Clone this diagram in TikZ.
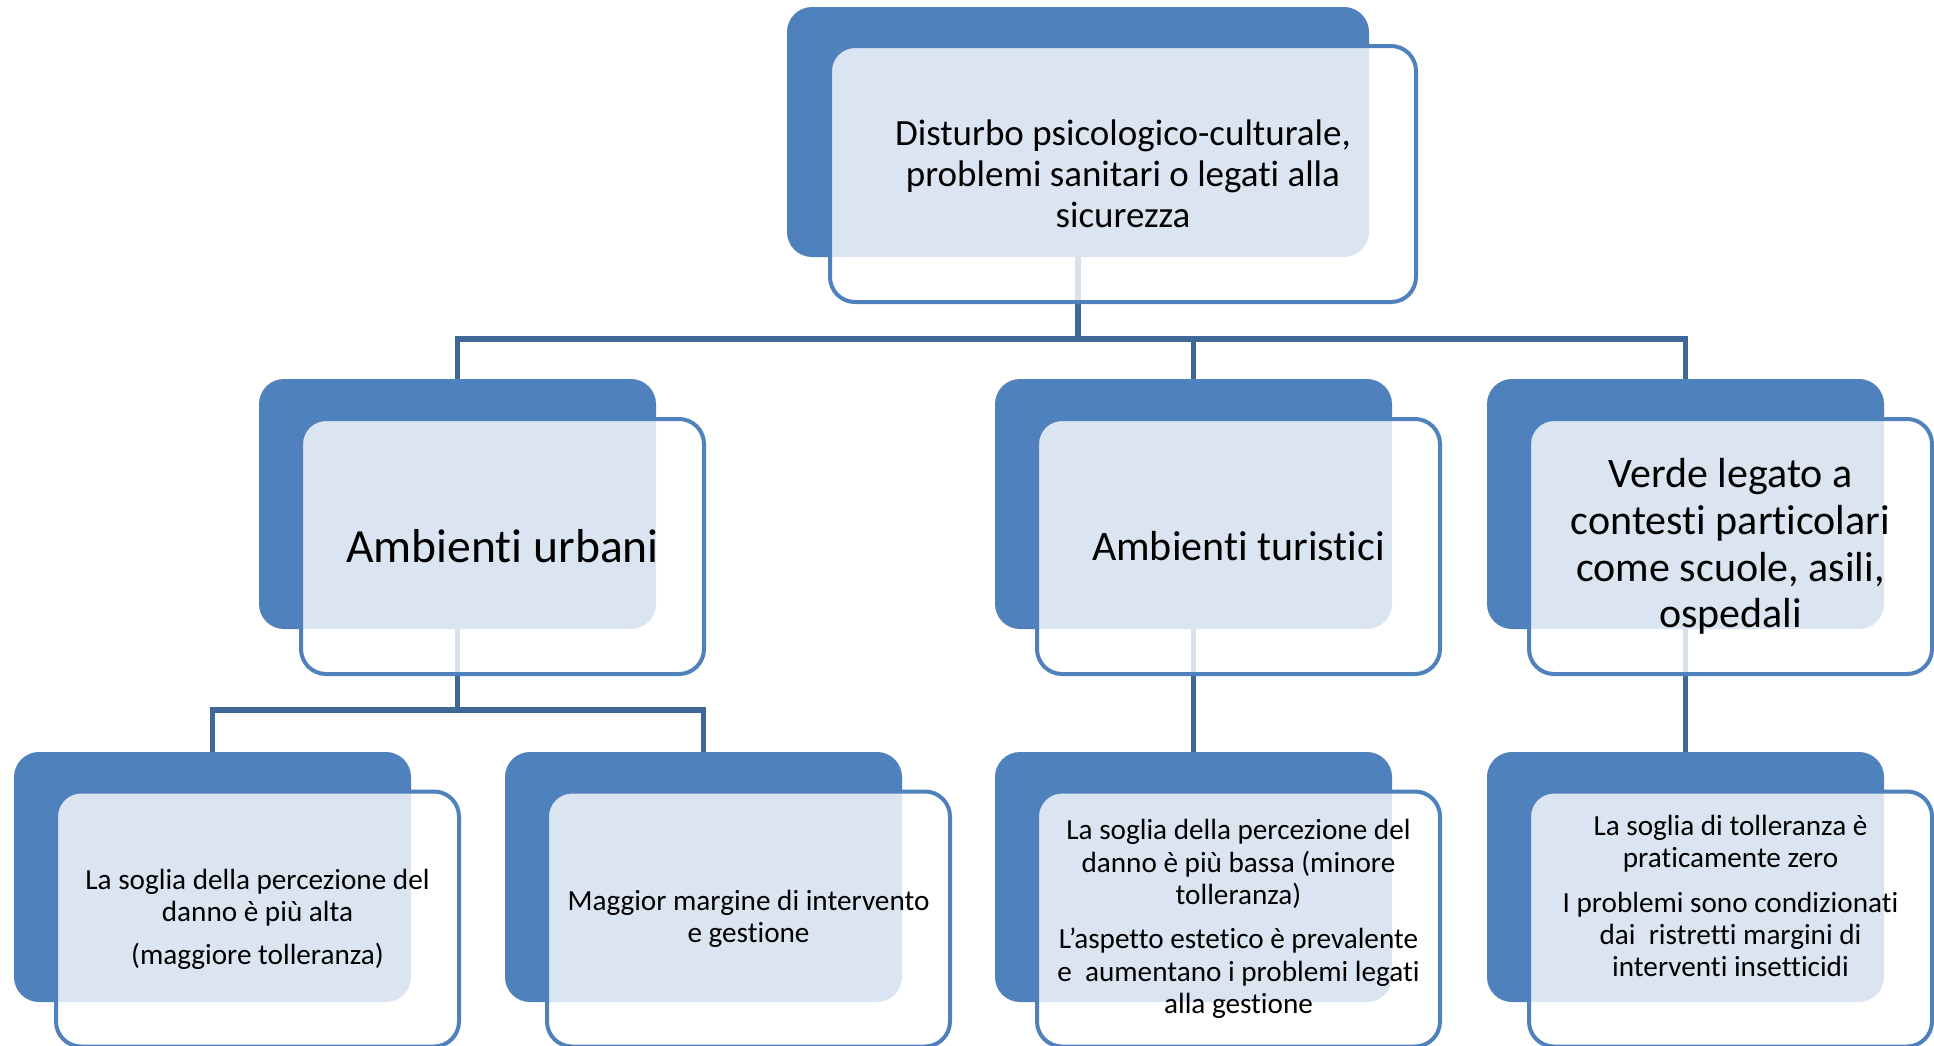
\documentclass[tikz,border=0pt]{standalone}
\usepackage{fontspec}
\setmainfont{Carlito}[Ligatures={NoCommon,NoContextual,NoRequired},Contextuals=NoAlternate]
\definecolor{boxblue}{HTML}{4F81BD}
\definecolor{rimblue}{HTML}{4F81BD}
\definecolor{linkblue}{HTML}{3F6898}
\begin{document}
\begin{tikzpicture}[x=0.5pt,y=-0.5pt,
  back/.style={rectangle, rounded corners=12.5pt, fill=boxblue, inner sep=0pt, outer sep=0pt,
               minimum width=198.5pt, minimum height=125pt},
  front/.style={rectangle, rounded corners=12.5pt, draw=rimblue, line width=2pt, fill=white,
               fill opacity=0.8, inner sep=0pt, outer sep=0pt,
               minimum width=201.5pt, minimum height=127.5pt},
  conn/.style={draw=linkblue, line width=2.6pt},
  lbl/.style={align=center, text=black, inner sep=0pt},
  small/.style={lbl, font=\fontsize{14.6pt}{16.2pt}\selectfont}]

% canvas
\useasboundingbox[fill=white] (0,0) rectangle (1934,1045);

% solid back panels
\node[back, minimum width=291pt] (b0) at (1078,132) {};
\node[back] (b1) at (457.5,504) {};
\node[back] (b2) at (1193.5,504) {};
\node[back] (b3) at (1685.5,504) {};
\node[back] (b4) at (212.5,877) {};
\node[back] (b5) at (703.5,877) {};
\node[back] (b6) at (1193.5,877) {};
\node[back] (b7) at (1685.5,877) {};

% tree connectors
\coordinate (j0) at (1078,339);
\coordinate (j1) at (457.5,710);
\draw[conn] (b0.south) -- (j0);
\draw[conn] (b1.north) |- (j0) -| (b3.north);
\draw[conn] (j0 -| b2.north) -- (b2.north);
\draw[conn] (b1.south) -- (j1);
\draw[conn] (b4.north) |- (j1) -| (b5.north);
\draw[conn] (b2.south) -- (b6.north);
\draw[conn] (b3.south) -- (b7.north);

% translucent front panels
\node[front, minimum width=293pt, minimum height=128pt] (f0) at (1123,174) {};
\node[front] (f1) at (502.5,546.5) {};
\node[front] (f2) at (1238.5,546.5) {};
\node[front] (f3) at (1730.5,546.5) {};
\node[front] (f4) at (257.5,919) {};
\node[front] (f5) at (748.5,919) {};
\node[front] (f6) at (1238.5,919) {};
\node[front] (f7) at (1730.5,919) {};

% labels
\node[lbl, font=\fontsize{18.5pt}{20.6pt}\selectfont] (l0) at (f0.center)
  {Disturbo psicologico-culturale,\\problemi sanitari o legati alla\\sicurezza};
\node[lbl, font=\fontsize{23.8pt}{28pt}\selectfont] (l1) at (f1.center) {Ambienti urbani};
\node[lbl, font=\fontsize{21pt}{25pt}\selectfont] (l2) at (f2.center) {Ambienti turistici};
\node[lbl, font=\fontsize{21pt}{23.3pt}\selectfont] (l3) at (f3.center)
  {Verde legato a\\contesti particolari\\come scuole, asili,\\ospedali};
\node[small] (l4) at (f4.center)
  {La soglia della percezione del\\danno è più alta\\[5pt](maggiore tolleranza)};
\node[small] (l5) at (f5.center)
  {Maggior margine di intervento\\e gestione};
\node[small] (l6) at (f6.center)
  {La soglia della percezione del\\danno è più bassa (minore\\tolleranza)\\[6pt]L’aspetto estetico è prevalente\\e\ \ aumentano i problemi legati\\alla gestione};
\node[small] (l7) at ([yshift=11.5pt]f7.center)
  {La soglia di tolleranza è\\praticamente zero\\[6pt]I problemi sono condizionati\\dai\ \ ristretti margini di\\interventi insetticidi};
\end{tikzpicture}
\end{document}
